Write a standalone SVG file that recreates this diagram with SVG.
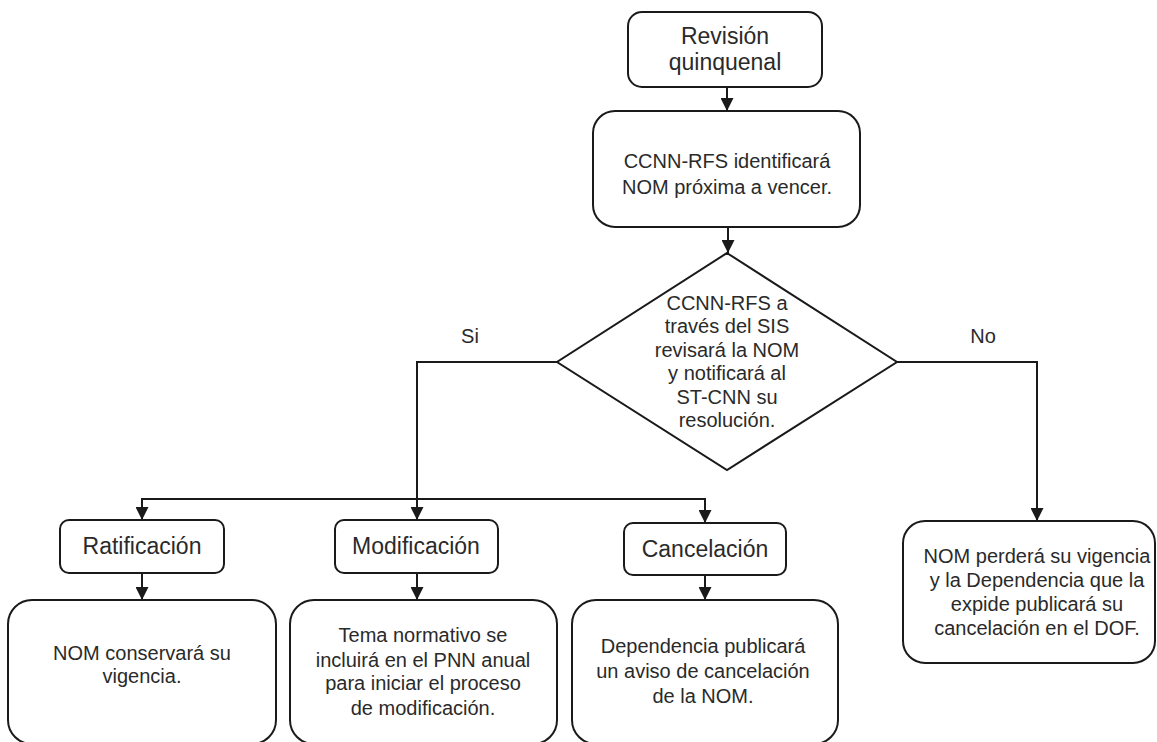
<svg xmlns="http://www.w3.org/2000/svg" width="1157" height="742" viewBox="0 0 1157 742">
  <defs>
    <marker id="arrow" viewBox="0 0 13 13" refX="13" refY="6.5" markerWidth="13" markerHeight="13" markerUnits="userSpaceOnUse" orient="auto">
      <path d="M0,0 L13,6.5 L0,13 Z" fill="#1a1a1a"/>
    </marker>
    <style>
      .box { fill: #ffffff; stroke: #1a1a1a; stroke-width: 2; }
      .line { fill: none; stroke: #1a1a1a; stroke-width: 2; }
      text { font-family: "Liberation Sans", Arial, sans-serif; fill: #2a2a2a; text-anchor: middle; }
      .t20 { font-size: 20px; }
      .t22 { font-size: 23px; }
    </style>
  </defs>
  <rect width="1157" height="742" fill="#ffffff"/>

  <!-- connectors -->
  <g id="connectors">
    <line class="line" x1="727" y1="87" x2="727" y2="111" marker-end="url(#arrow)"/>
    <line class="line" x1="728" y1="227" x2="728" y2="253" marker-end="url(#arrow)"/>
    <polyline class="line" points="557,362 417,362 417,520" marker-end="url(#arrow)"/>
    <polyline class="line" points="417,499 142,499 142,520" marker-end="url(#arrow)"/>
    <polyline class="line" points="417,499 705,499 705,523" marker-end="url(#arrow)"/>
    <polyline class="line" points="897,362 1037,362 1037,521" marker-end="url(#arrow)"/>
    <line class="line" x1="142" y1="573" x2="142" y2="600" marker-end="url(#arrow)"/>
    <line class="line" x1="417" y1="573" x2="417" y2="600" marker-end="url(#arrow)"/>
    <line class="line" x1="705" y1="575" x2="705" y2="600" marker-end="url(#arrow)"/>
    <text class="t20" x="470" y="343">Si</text>
    <text class="t20" x="983" y="343">No</text>
  </g>

  <!-- start -->
  <g id="revision">
    <rect class="box" x="628" y="12" width="194" height="75" rx="14"/>
    <text class="t22" x="725" y="44">Revisión</text>
    <text class="t22" x="725" y="70">quinquenal</text>
  </g>

  <g id="identificar">
    <rect class="box" x="593" y="111" width="267" height="116" rx="22"/>
    <text class="t20" x="727" y="168">CCNN-RFS identificará</text>
    <text class="t20" x="727" y="194">NOM próxima a vencer.</text>
  </g>

  <!-- decision -->
  <g id="decision">
    <polygon class="box" points="727,253 897,362 727,470 557,362"/>
    <text class="t20" x="727" y="310">CCNN-RFS a</text>
    <text class="t20" x="727" y="333">través del SIS</text>
    <text class="t20" x="727" y="357">revisará la NOM</text>
    <text class="t20" x="727" y="380">y notificará al</text>
    <text class="t20" x="727" y="404">ST-CNN su</text>
    <text class="t20" x="727" y="427">resolución.</text>
  </g>

  <!-- outcomes -->
  <g id="ratificacion">
    <rect class="box" x="60" y="520" width="164" height="53" rx="9"/>
    <text class="t22" x="142" y="554">Ratificación</text>
  </g>
  <g id="modificacion">
    <rect class="box" x="335" y="520" width="163" height="53" rx="9"/>
    <text class="t22" x="416" y="554">Modificación</text>
  </g>
  <g id="cancelacion">
    <rect class="box" x="624" y="523" width="162" height="52" rx="9"/>
    <text class="t22" x="705" y="557">Cancelación</text>
  </g>

  <g id="conserva">
    <rect class="box" x="8" y="600" width="268" height="144" rx="24"/>
    <text class="t20" x="142" y="660">NOM conservará su</text>
    <text class="t20" x="142" y="683">vigencia.</text>
  </g>
  <g id="pnn">
    <rect class="box" x="290" y="600" width="267" height="144" rx="24"/>
    <text class="t20" x="423" y="642">Tema normativo se</text>
    <text class="t20" x="423" y="667">incluirá en el PNN anual</text>
    <text class="t20" x="423" y="690">para iniciar el proceso</text>
    <text class="t20" x="423" y="715">de modificación.</text>
  </g>
  <g id="aviso">
    <rect class="box" x="572" y="600" width="266" height="144" rx="24"/>
    <text class="t20" x="703" y="653">Dependencia publicará</text>
    <text class="t20" x="703" y="678">un aviso de cancelación</text>
    <text class="t20" x="703" y="703">de la NOM.</text>
  </g>

  <g id="pierde-vigencia">
    <rect class="box" x="903" y="521" width="252" height="142" rx="22"/>
    <text class="t20" x="1037" y="563">NOM perderá su vigencia</text>
    <text class="t20" x="1037" y="587">y la Dependencia que la</text>
    <text class="t20" x="1037" y="611">expide publicará su</text>
    <text class="t20" x="1037" y="635">cancelación en el DOF.</text>
  </g>
</svg>
